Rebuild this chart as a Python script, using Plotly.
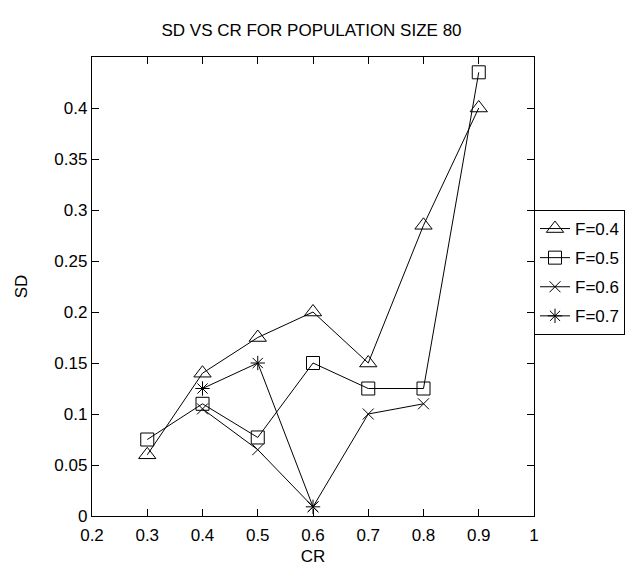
import plotly.graph_objects as go

cr = [0.3, 0.4, 0.5, 0.6, 0.7, 0.8, 0.9]
f04 = [0.06, 0.14, 0.175, 0.20, 0.15, 0.285, 0.40]
f05 = [0.075, 0.11, 0.077, 0.15, 0.125, 0.125, 0.435]
cr_f06 = [0.4, 0.5, 0.6, 0.7, 0.8]
f06 = [0.105, 0.065, 0.009, 0.10, 0.11]
cr_f07 = [0.4, 0.5, 0.6]
f07 = [0.125, 0.15, 0.009]

x_ticks = [0.2, 0.3, 0.4, 0.5, 0.6, 0.7, 0.8, 0.9, 1.0]
x_ticklabels = ["0.2", "0.3", "0.4", "0.5", "0.6", "0.7", "0.8", "0.9", "1"]
y_ticks = [0, 0.05, 0.1, 0.15, 0.2, 0.25, 0.3, 0.35, 0.4]
y_ticklabels = ["0", "0.05", "0.1", "0.15", "0.2", "0.25", "0.3", "0.35", "0.4"]

FONT = "Liberation Sans, Arial, sans-serif"
FS = 17

fig = go.Figure()
series = [
    ("F=0.4", cr, f04, "triangle-up-open", 15),
    ("F=0.5", cr, f05, "square-open", 13),
    ("F=0.6", cr_f06, f06, "x-thin-open", 11),
    ("F=0.7", cr_f07, f07, "asterisk-open", 12),
]
for name, xs, ys, sym, sz in series:
    fig.add_trace(go.Scatter(
        x=xs, y=ys, name=name, legendgroup=name, mode="lines+markers",
        line=dict(color="black", width=1),
        marker=dict(symbol=sym, size=sz, color="black",
                    line=dict(color="black", width=1)),
    ))

axis_common = dict(
    showline=True, linecolor="black", linewidth=1.3, mirror="allticks",
    ticks="inside", ticklen=7, tickcolor="black", tickwidth=1,
    showgrid=False, zeroline=False,
    tickfont=dict(family=FONT, size=FS, color="black"),
)

fig.update_layout(
    width=637, height=571,
    paper_bgcolor="white", plot_bgcolor="white",
    margin=dict(l=81, r=111, t=49, b=63),
    title=dict(text="SD VS CR FOR POPULATION SIZE 80", x=(81 + 222.5) / 637,
               xanchor="center", y=1 - 22 / 571, yanchor="middle",
               font=dict(family=FONT, size=FS, color="black")),
    xaxis=dict(range=[0.2, 1.0], tickvals=x_ticks, ticktext=x_ticklabels,
               ticklabelstandoff=3,
               title=dict(text="CR", font=dict(family=FONT, size=FS, color="black"),
                          standoff=6),
               **axis_common),
    yaxis=dict(range=[0, 0.45], tickvals=y_ticks, ticktext=y_ticklabels,
               title=dict(text="SD", font=dict(family=FONT, size=FS, color="black"),
                          standoff=22),
               **axis_common),
    legend=dict(x=(526 - 81) / 445, xanchor="left", y=(508 - 202) / 459,
                yanchor="top", bgcolor="white", bordercolor="black",
                borderwidth=1,
                font=dict(family=FONT, size=FS, color="black"),
                itemwidth=30, tracegroupgap=4),
    showlegend=True,
)

fig.write_html("out.html")
